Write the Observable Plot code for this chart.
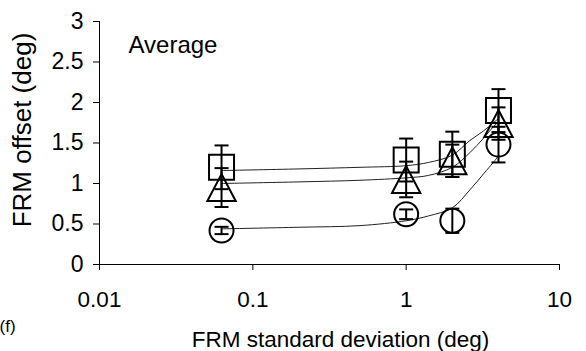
<!DOCTYPE html>
<html>
<head>
<meta charset="utf-8">
<script src="https://cdn.jsdelivr.net/npm/d3@7"></script>
<script src="https://cdn.jsdelivr.net/npm/@observablehq/plot@0.6"></script>
<style>
  html, body { margin: 0; padding: 0; background: #fff; }
  #chart svg { display: block; overflow: visible; }
</style>
</head>
<body>
<div id="chart"></div>
<script>
// ---- data ----
const xValues = [0.0625, 1, 2, 4];
const squareMean = [1.20, 1.29, 1.36, 1.90];
const squareErr = [0.27, 0.265, 0.28, 0.265];
const triangleMean = [0.95, 1.05, 1.28, 1.74];
const triangleErr = [0.24, 0.22, 0.2, 0.2];
const circleMean = [0.42, 0.62, 0.54, 1.48];
const circleErr = [0.045, 0.06, 0.15, 0.22];

// fitted curves
const curveX = [0.0625, 0.2, 0.5, 1, 1.4, 2, 2.6, 3.2, 3.7, 4];
const squareCurve = [1.16, 1.18, 1.20, 1.22, 1.26, 1.35, 1.53, 1.65, 1.75, 1.80];
const triangleCurve = [1.00, 1.02, 1.04, 1.07, 1.10, 1.20, 1.38, 1.56, 1.70, 1.76];
const circleCurve = [0.44, 0.46, 0.48, 0.54, 0.60, 0.70, 0.92, 1.12, 1.26, 1.34];

const xTicks = [0.01, 0.1, 1, 10];
const yTicks = [0, 0.5, 1, 1.5, 2, 2.5, 3];
const xLabel = "FRM standard deviation (deg)";
const yLabel = "FRM offset (deg)";
const panelTitle = "Average";
const panelTag = "(f)";

// ---- build tables ----
const points = [];
const series = [
  {name: "square", mean: squareMean, err: squareErr},
  {name: "triangle", mean: triangleMean, err: triangleErr},
  {name: "circle", mean: circleMean, err: circleErr}
];
for (const s of series) {
  xValues.forEach((x, i) => points.push({series: s.name, x, y: s.mean[i], lo: s.mean[i] - s.err[i], hi: s.mean[i] + s.err[i]}));
}
const curves = [];
[["square", squareCurve], ["triangle", triangleCurve], ["circle", circleCurve]].forEach(([name, ys]) => {
  curveX.forEach((x, i) => curves.push({series: name, x, y: ys[i]}));
});

// custom marker symbols (Excel-like)
const squareSym = {draw(ctx, size) { const r = Math.sqrt(size / Math.PI); ctx.moveTo(-r, -r); ctx.lineTo(r, -r); ctx.lineTo(r, r); ctx.lineTo(-r, r); ctx.closePath(); }};
const triangleSym = {draw(ctx, size) { const r = Math.sqrt(size / Math.PI); ctx.moveTo(0, -r); ctx.lineTo(1.05 * r, r); ctx.lineTo(-1.05 * r, r); ctx.closePath(); }};
const capSym = {draw(ctx, size) { const r = Math.sqrt(size / Math.PI); ctx.moveTo(-r, 0); ctx.lineTo(r, 0); }};

const font = "'Liberation Sans', Arial, Helvetica, sans-serif";
const caps = points.flatMap(d => [{x: d.x, y: d.lo}, {x: d.x, y: d.hi}]);

const chart = Plot.plot({
  width: 586,
  height: 351,
  marginLeft: 99,
  marginRight: 27,
  marginTop: 21,
  marginBottom: 87,
  style: {fontFamily: font, background: "white", color: "black"},
  x: {type: "log", domain: [0.01, 10]},
  y: {domain: [0, 3]},
  marks: [
    Plot.ruleX([0.01], {stroke: "black", strokeWidth: 1}),
    Plot.ruleY([0], {stroke: "black", strokeWidth: 1}),
    Plot.axisX({ticks: xTicks, tickFormat: d => String(d), tickSize: 6, tickPadding: 21, fontSize: 22.5, label: null, stroke: "black"}),
    Plot.axisY({ticks: yTicks, tickFormat: d => String(d), tickSize: 6, tickPadding: 10, fontSize: 23, label: null, stroke: "black"}),
    Plot.line(curves, {x: "x", y: "y", z: "series", curve: "catmull-rom", stroke: "#222", strokeWidth: 1}),
    Plot.ruleX(points, {x: "x", y1: "lo", y2: "hi", stroke: "black", strokeWidth: 2}),
    Plot.dot(caps, {x: "x", y: "y", symbol: capSym, r: 7, stroke: "black", strokeWidth: 2, fill: "none"}),
    Plot.dot(points.filter(d => d.series === "square"), {x: "x", y: "y", symbol: squareSym, r: 12.5, stroke: "black", strokeWidth: 2, fill: "none"}),
    Plot.dot(points.filter(d => d.series === "triangle"), {x: "x", y: "y", symbol: triangleSym, r: 13.5, stroke: "black", strokeWidth: 2, fill: "none"}),
    Plot.dot(points.filter(d => d.series === "circle"), {x: "x", y: "y", symbol: "circle", r: 12, stroke: "black", strokeWidth: 2, fill: "none"}),
    Plot.text([panelTitle], {frameAnchor: "top-left", textAnchor: "start", lineAnchor: "top", dx: 29, dy: 14, fontSize: 24, fill: "black"}),
    Plot.text([xLabel], {frameAnchor: "bottom", textAnchor: "middle", lineAnchor: "bottom", dx: 11, dy: 82, fontSize: 22.5, fill: "black"}),
    Plot.text([yLabel], {frameAnchor: "left", textAnchor: "middle", lineAnchor: "middle", rotate: -90, dx: -77, dy: -13, fontSize: 26, fill: "black"}),
    Plot.text([panelTag], {frameAnchor: "bottom-left", textAnchor: "start", lineAnchor: "bottom", dx: -100, dy: 67, fontSize: 17, fill: "black"})
  ]
});
document.getElementById("chart").appendChild(chart);
</script>
</body>
</html>
